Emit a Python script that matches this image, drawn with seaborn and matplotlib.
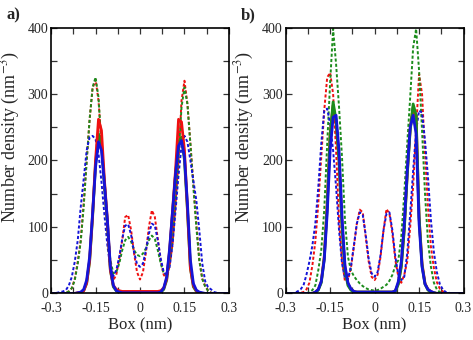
"""
Number density profiles across the box, two panels (a, b).
Solid = one set of species, dashed = another; red / green / blue runs.
"""
import matplotlib
matplotlib.use("Agg")
import matplotlib.pyplot as plt
import numpy as np
import pandas as pd
import seaborn as sns
from matplotlib.ticker import MultipleLocator

# Box position grid (nm), 0.01 nm spacing from -0.30 to 0.30
BOX_NM = np.round(np.linspace(-0.30, 0.30, 61), 2)

# ---- panel a ----
A_RED_SOLID = [0, 0, 0, 0, 0, 0, 0, 0, 0, 1, 1, 4, 16, 50, 118, 200, 262, 245, 170, 110,
               35, 12, 6, 4, 3, 3, 3, 3, 3, 3, 3,
               3, 3, 3, 3, 3, 3, 4, 8, 22, 65, 125, 186, 262, 258, 215, 128, 38, 12, 4, 1,
               0, 0, 0, 0, 0, 0, 0, 0, 0, 0]
A_GREEN_SOLID = [0, 0, 0, 0, 0, 0, 0, 0, 0, 0, 1, 4, 15, 48, 115, 195, 240, 225, 165, 105,
                 35, 10, 4, 2, 2, 2, 2, 2, 2, 2, 2,
                 2, 2, 2, 2, 2, 2, 2, 6, 20, 62, 120, 180, 228, 235, 200, 125, 38, 10, 3, 1,
                 0, 0, 0, 0, 0, 0, 0, 0, 0, 0]
A_BLUE_SOLID = [0, 0, 0, 0, 0, 0, 0, 0, 0, 1, 2, 6, 20, 55, 120, 190, 228, 215, 165, 110,
                40, 12, 4, 2, 1, 1, 1, 1, 1, 1, 1,
                1, 1, 1, 1, 1, 1, 2, 8, 25, 68, 125, 180, 222, 230, 205, 135, 50, 15, 5, 2,
                1, 0, 0, 0, 0, 0, 0, 0, 0, 0]
A_RED_DASH = [0, 0, 0, 0, 0, 1, 3, 8, 22, 48, 80, 136, 200, 262, 308, 322, 290, 225, 160, 105,
              45, 20, 28, 52, 80, 115, 118, 95, 60, 32, 21,
              32, 62, 100, 125, 115, 82, 48, 28, 22, 42, 75, 136, 200, 290, 320, 285, 225, 165,
              105, 50, 22, 11, 4, 1, 0, 0, 0, 0, 0, 0]
A_GREEN_DASH = [0, 0, 0, 0, 0, 1, 3, 8, 20, 45, 78, 130, 198, 262, 310, 325, 295, 222, 155, 100,
                50, 30, 32, 45, 65, 80, 85, 78, 65, 58, 56,
                60, 68, 80, 87, 82, 65, 45, 30, 28, 45, 80, 140, 205, 280, 310, 285, 225, 160,
                100, 50, 22, 10, 4, 1, 0, 0, 0, 0, 0, 0]
A_BLUE_DASH = [0, 0, 1, 2, 3, 5, 12, 25, 48, 80, 130, 172, 215, 235, 237, 232, 210, 168, 118, 72,
               38, 26, 35, 55, 82, 102, 104, 88, 62, 44, 40,
               45, 65, 90, 105, 102, 80, 52, 32, 28, 40, 75, 125, 178, 222, 237, 228, 200, 170,
               140, 95, 45, 18, 9, 6, 2, 1, 0, 0, 0, 0]

# ---- panel b ----
B_RED_SOLID = [0, 0, 0, 0, 0, 0, 0, 0, 0, 0, 2, 6, 18, 55, 135, 240, 283, 255, 200, 105,
               38, 15, 6, 3, 2, 2, 2, 2, 2, 2, 2,
               2, 2, 2, 2, 2, 2, 4, 15, 42, 98, 180, 248, 280, 262, 115, 45, 15, 6, 3, 1,
               0, 0, 0, 0, 0, 0, 0, 0, 0, 0]
B_GREEN_SOLID = [0, 0, 0, 0, 0, 0, 0, 0, 0, 0, 1, 5, 16, 52, 130, 238, 288, 260, 200, 100,
                 35, 12, 5, 2, 2, 2, 2, 2, 2, 2, 2,
                 2, 2, 2, 2, 2, 2, 3, 14, 40, 95, 178, 245, 285, 268, 115, 42, 14, 5, 2, 1,
                 0, 0, 0, 0, 0, 0, 0, 0, 0, 0]
B_BLUE_SOLID = [0, 0, 0, 0, 0, 0, 0, 0, 0, 0, 2, 6, 18, 50, 120, 215, 265, 268, 215, 115,
                42, 16, 7, 3, 2, 2, 2, 2, 2, 2, 2,
                2, 2, 2, 2, 2, 2, 4, 18, 48, 105, 185, 250, 268, 240, 105, 40, 14, 6, 3, 1,
                0, 0, 0, 0, 0, 0, 0, 0, 0, 0]
B_RED_DASH = [0, 0, 0, 0, 0, 1, 2, 6, 16, 42, 78, 135, 205, 275, 325, 332, 300, 215, 110, 50,
              18, 20, 38, 70, 105, 126, 122, 85, 48, 25, 20,
              28, 55, 95, 127, 120, 90, 50, 25, 16, 28, 48, 100, 161, 245, 330, 300, 211, 130,
              70, 38, 17, 7, 3, 1, 0, 0, 0, 0, 0, 0]
B_GREEN_DASH = [0, 0, 0, 0, 0, 0, 0, 0, 2, 5, 12, 35, 65, 125, 225, 318, 398, 345, 280, 205,
                110, 55, 35, 26, 20, 15, 11, 8, 6, 5, 4,
                5, 7, 10, 13, 19, 28, 42, 50, 85, 150, 225, 295, 370, 398, 335, 245, 150, 78,
                40, 16, 6, 2, 1, 0, 0, 0, 0, 0, 0, 0]
B_BLUE_DASH = [0, 0, 0, 1, 3, 6, 12, 28, 48, 72, 105, 160, 225, 275, 278, 255, 215, 160, 95, 45,
               22, 22, 40, 72, 105, 122, 118, 88, 52, 30, 25,
               32, 58, 95, 120, 122, 95, 55, 28, 20, 25, 60, 120, 185, 245, 275, 272, 230, 175,
               110, 62, 32, 14, 6, 2, 1, 0, 0, 0, 0, 0]

PANELS = {
    "a)": [(A_RED_DASH, "red", "dash"), (A_GREEN_DASH, "green", "dash"),
           (A_BLUE_DASH, "blue", "dash"), (A_GREEN_SOLID, "green", "solid"),
           (A_RED_SOLID, "red", "solid"), (A_BLUE_SOLID, "blue", "solid")],
    "b)": [(B_RED_DASH, "red", "dash"), (B_GREEN_DASH, "green", "dash"),
           (B_BLUE_DASH, "blue", "dash"), (B_RED_SOLID, "red", "solid"),
           (B_GREEN_SOLID, "green", "solid"), (B_BLUE_SOLID, "blue", "solid")],
}

COLORS = {"red": "#f01010", "green": "#1c8c1c", "blue": "#1414d8"}

sns.set_theme(style="ticks")
plt.rcParams["font.family"] = ["Liberation Serif", "DejaVu Serif"]
plt.rcParams["mathtext.fontset"] = "stix"

fig = plt.figure(figsize=(4.73, 3.40), dpi=100)
axes = [fig.add_axes([0.108, 0.137, 0.376, 0.782]),
        fig.add_axes([0.604, 0.137, 0.376, 0.782])]

for ax, (tag, series) in zip(axes, PANELS.items()):
    for vals, col, kind in series:
        df = pd.DataFrame({"Box": BOX_NM, "Density": vals})
        if kind == "solid":
            sns.lineplot(data=df, x="Box", y="Density", ax=ax, color=COLORS[col],
                         linewidth=2.0, estimator=None, sort=False)
        else:
            line = sns.lineplot(data=df, x="Box", y="Density", ax=ax, color=COLORS[col],
                                linewidth=1.4, estimator=None, sort=False).lines[-1]
            line.set_dashes((1.6, 1.1))

    ax.set_xlim(-0.3, 0.3)
    ax.set_ylim(0, 400)
    ax.set_xticks([-0.3, -0.15, 0, 0.15, 0.3])
    ax.set_xticklabels(["-0.3", "-0.15", "0", "0.15", "0.3"])
    ax.xaxis.set_minor_locator(MultipleLocator(0.075))
    ax.yaxis.set_major_locator(MultipleLocator(100))
    ax.yaxis.set_minor_locator(MultipleLocator(50))
    ax.tick_params(which="both", direction="in", top=True, right=True,
                   length=4, width=0.9, labelsize=10, color="#333333")
    ax.tick_params(axis="y", pad=2)
    ax.tick_params(axis="x", pad=6)
    for sp in ax.spines.values():
        sp.set_linewidth(1.2)
        sp.set_color("black")
    ax.set_xlabel("Box (nm)", fontsize=12, labelpad=2)
    ax.set_ylabel("Number density (nm$^{-3}$)", fontsize=13)
    ax.yaxis.set_label_coords(-0.165, 0.59)
    ax.grid(False)
    ax.text(-0.25, 1.045, tag, transform=ax.transAxes, fontsize=12,
            fontweight="bold", va="center", ha="left")

fig.savefig("out.png", dpi=100)
